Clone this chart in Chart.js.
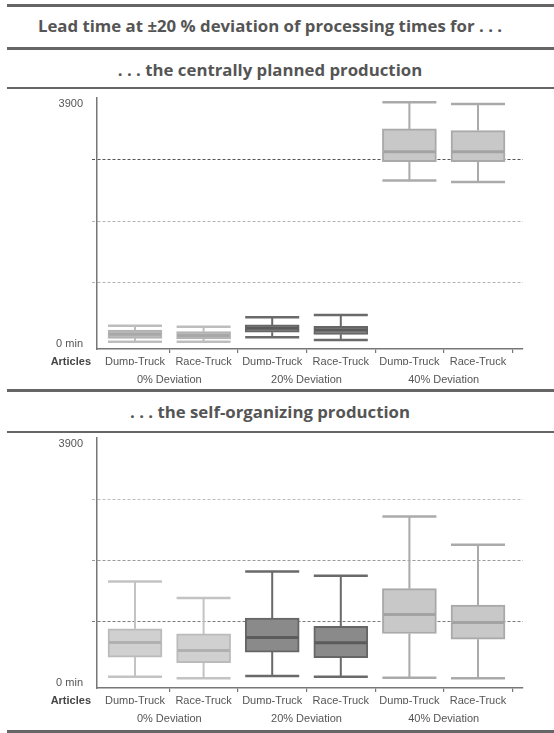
<!DOCTYPE html>
<html>
<head>
<meta charset="utf-8">
<script src="https://cdn.jsdelivr.net/npm/chart.js@4.4.1/dist/chart.umd.min.js"></script>
<style>
  html, body { margin: 0; padding: 0; background: #fff; }
  #page { position: relative; width: 554px; height: 733px; overflow: hidden; }
  .rule { position: absolute; left: 7px; right: 0; background: #666; }
  .head { position: absolute; left: 0; right: 14px; text-align: center; white-space: nowrap;
          font-family: "Open Sans", sans-serif; font-weight: 700; font-size: 16.8px;
          line-height: 22px; color: #555; }
  canvas { position: absolute; left: 0; }
</style>
</head>
<body>
<div id="page">
  <div class="rule" style="top:4px;height:3px"></div>
  <div class="head" style="top:15px">Lead time at ±20 % deviation of processing times for . . .</div>
  <div class="rule" style="top:47px;height:3px"></div>
  <div class="head" style="top:59px">. . . the centrally planned production</div>
  <div class="rule" style="top:87px;height:2px"></div>
  <canvas id="central" width="554" height="299" style="top:90px"></canvas>
  <div class="rule" style="top:389px;height:3px"></div>
  <div class="head" style="top:401px">. . . the self-organizing production</div>
  <div class="rule" style="top:431px;height:2px"></div>
  <canvas id="selforg" width="554" height="295" style="top:433px"></canvas>
  <div class="rule" style="top:730px;height:3px"></div>
</div>
<script>
// Articles on the x axis, grouped by deviation of processing times
const categories = ['Dump-Truck', 'Race-Truck', 'Dump-Truck', 'Race-Truck', 'Dump-Truck', 'Race-Truck'];
const groups = ['0% Deviation', '20% Deviation', '40% Deviation'];

// Labelled y ticks and the unlabelled dashed guide lines (minutes)
const yTickValues = [0, 3900];
const yTickLabels = ['0 min', '3900'];
const guideValues = [1000, 2000, 3000];

// Lead time statistics, centrally planned production
const centralMin    = [39, 39, 111, 67, 2657, 2636];
const centralQ1     = [94, 83, 192, 159, 2966, 2966];
const centralMedian = [160, 140, 257, 229, 3128, 3128];
const centralQ3     = [229, 202, 311, 289, 3498, 3470];
const centralMax    = [299, 283, 436, 473, 3932, 3904];

// Lead time statistics, self-organizing production
const selfMin    = [104, 78, 115, 104, 88, 78];
const selfQ1     = [424, 332, 506, 413, 810, 717];
const selfMedian = [663, 533, 745, 657, 1119, 989];
const selfQ3     = [885, 803, 1063, 928, 1541, 1275];
const selfMax    = [1660, 1389, 1823, 1753, 2717, 2257];

Chart.defaults.font.family = '"Liberation Sans", Arial, sans-serif';
Chart.defaults.font.size = 11;
Chart.defaults.color = '#555';
Chart.defaults.animation = false;

const paleBox  = { fill: '#d0d0d0', edge: '#bbbbbb', median: '#b0b0b0', whisker: '#c3c3c3' };
const greyBox  = { fill: '#bdbdbd', edge: '#b3b3b3', median: '#a8a8a8', whisker: '#bdbdbd' };
const darkBox  = { fill: '#8a8a8a', edge: '#666666', median: '#5b5b5b', whisker: '#6a6a6a' };
const midBox   = { fill: '#c8c8c8', edge: '#a9a9a9', median: '#a3a3a3', whisker: '#aaaaaa' };

// Whiskers, caps and median lines drawn around the Q1..Q3 floating bars
const boxWhiskers = {
  id: 'boxWhiskers',
  beforeDatasetsDraw(chart, args, opts) {
    const y = chart.scales.y;
    const meta = chart.getDatasetMeta(0);
    const ctx = chart.ctx;
    meta.data.forEach((bar, i) => {
      const st = opts.styles[i];
      const half = bar.width / 2;
      const yMin = y.getPixelForValue(opts.min[i]);
      const yMax = y.getPixelForValue(opts.max[i]);
      const yQ1 = y.getPixelForValue(opts.q1[i]);
      const yQ3 = y.getPixelForValue(opts.q3[i]);
      ctx.save();
      ctx.strokeStyle = st.whisker;
      ctx.lineWidth = 2;
      ctx.beginPath();
      ctx.moveTo(bar.x, yMax); ctx.lineTo(bar.x, yQ3);
      ctx.moveTo(bar.x, yQ1); ctx.lineTo(bar.x, yMin);
      ctx.stroke();
      ctx.lineWidth = 2.5;
      ctx.beginPath();
      ctx.moveTo(bar.x - half, yMax); ctx.lineTo(bar.x + half, yMax);
      ctx.moveTo(bar.x - half, yMin); ctx.lineTo(bar.x + half, yMin);
      ctx.stroke();
      ctx.restore();
    });
  },
  afterDatasetsDraw(chart, args, opts) {
    const y = chart.scales.y;
    const meta = chart.getDatasetMeta(0);
    const ctx = chart.ctx;
    meta.data.forEach((bar, i) => {
      const st = opts.styles[i];
      const half = bar.width / 2 - 1;
      const yMed = y.getPixelForValue(opts.median[i]);
      ctx.save();
      ctx.strokeStyle = st.median;
      ctx.lineWidth = 3;
      ctx.beginPath();
      ctx.moveTo(bar.x - half, yMed); ctx.lineTo(bar.x + half, yMed);
      ctx.stroke();
      ctx.restore();
    });
    // axis caption left of the article names
    const x = chart.scales.x;
    ctx.save();
    ctx.font = 'bold 11px "Liberation Sans", Arial, sans-serif';
    ctx.fillStyle = '#444';
    ctx.textAlign = 'right';
    ctx.textBaseline = 'middle';
    ctx.fillText('Articles', chart.chartArea.left - 6, x.top + 13);
    ctx.restore();
  }
};

function makeChart(id, stats, styles, guideColors, topPad) {
  const xMin = 0.446, xMax = 6.656;
  return new Chart(document.getElementById(id), {
    type: 'bar',
    data: {
      datasets: [{
        data: stats.q1.map((v, i) => ({ x: i + 1, y: [v, stats.q3[i]] })),
        backgroundColor: styles.map(s => s.fill),
        borderColor: styles.map(s => s.edge),
        borderWidth: 2,
        borderSkipped: false,
        barThickness: 54,
        grouped: false
      }]
    },
    options: {
      responsive: false,
      devicePixelRatio: 1,
      layout: { padding: { top: topPad, right: 31, left: 0, bottom: 0 } },
      plugins: {
        legend: { display: false },
        tooltip: { enabled: false },
        boxWhiskers: { ...stats, styles }
      },
      scales: {
        x: {
          type: 'linear', min: xMin, max: xMax, offset: false,
          afterBuildTicks: s => { s.ticks = categories.map((c, i) => ({ value: i + 1 })); },
          afterFit: s => { s.height = 16; s.paddingLeft = 0; s.paddingRight = 0; },
          ticks: { callback: (v, i) => categories[i], autoSkip: false, maxRotation: 0, padding: 2 },
          grid: {
            offset: true, drawOnChartArea: false, drawTicks: true, tickLength: 4,
            color: c => c.index === 0 ? 'rgba(0,0,0,0)' : '#777', lineWidth: 1.2
          },
          border: { color: '#777', width: 1.5 }
        },
        x2: {
          type: 'linear', position: 'bottom', min: xMin, max: xMax, offset: false,
          afterBuildTicks: s => { s.ticks = groups.map((g, i) => ({ value: 2 * i + 1.5 })); },
          afterFit: s => { s.height = 24; s.paddingLeft = 0; s.paddingRight = 0; },
          ticks: { callback: (v, i) => groups[i], autoSkip: false, maxRotation: 0, padding: 8 },
          grid: { display: false, drawTicks: false },
          border: { display: false }
        },
        y: {
          min: -80, max: 4000,
          afterBuildTicks: s => {
            s.ticks = yTickValues.concat(guideValues).sort((a, b) => a - b).map(v => ({ value: v }));
          },
          afterFit: s => { s.width = 97; s.paddingTop = 0; s.paddingBottom = 0; },
          ticks: {
            padding: 9,
            callback: v => { const k = yTickValues.indexOf(v); return k >= 0 ? yTickLabels[k] : ''; }
          },
          grid: {
            tickLength: 5, lineWidth: 1,
            color: c => guideColors[c.tick ? c.tick.value : -1] || 'rgba(0,0,0,0)',
            tickBorderDash: [3, 2]
          },
          border: {
            color: '#777', width: 1.5,
            dash: c => (c.tick && guideValues.includes(c.tick.value)) ? [3, 2] : []
          }
        }
      }
    },
    plugins: [boxWhiskers]
  });
}

makeChart('central',
  { min: centralMin, q1: centralQ1, median: centralMedian, q3: centralQ3, max: centralMax },
  [greyBox, greyBox, darkBox, darkBox, midBox, midBox],
  { 1000: '#b3b3b3', 2000: '#b3b3b3', 3000: '#555' }, 8);

makeChart('selforg',
  { min: selfMin, q1: selfQ1, median: selfMedian, q3: selfQ3, max: selfMax },
  [paleBox, paleBox, darkBox, darkBox, midBox, midBox],
  { 1000: '#7a7a7a', 2000: '#9a9a9a', 3000: '#bdbdbd' }, 5);
</script>
</body>
</html>
